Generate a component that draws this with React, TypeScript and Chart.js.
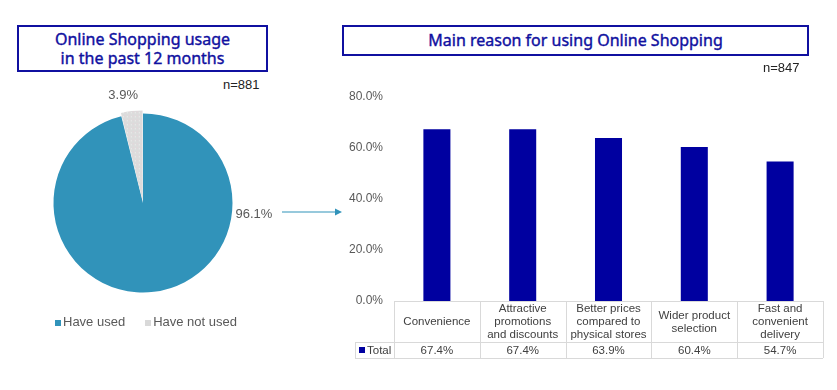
import React, { useEffect, useRef } from "react";
import { Chart, registerables } from "chart.js";

Chart.register(...registerables);

// ---- data ----
const pieLabels = ["Have used", "Have not used"];
const pieValues = [96.1, 3.9];
const pieN = "n=881";
const pieTitle = ["Online Shopping usage", "in the past 12 months"];

const barCategories: string[][] = [
  ["Convenience"],
  ["Attractive", "promotions", "and discounts"],
  ["Better prices", "compared to", "physical stores"],
  ["Wider product", "selection"],
  ["Fast and", "convenient", "delivery"],
];
const barSeriesName = "Total";
const barValues = [67.4, 67.4, 63.9, 60.4, 54.7];
const barTicks = [0, 20, 40, 60, 80];
const barN = "n=847";
const barTitle = "Main reason for using Online Shopping";

const PIE_BLUE = "rgb(49,147,186)";
const BAR_BLUE = "#0000A0";
const TITLE_BLUE = "#1010A0";
const GRAY_TEXT = "#595959";
const FONT = "'Liberation Sans', Arial, sans-serif";

function makeDotPattern(): CanvasPattern | string {
  const c = document.createElement("canvas");
  c.width = 4;
  c.height = 4;
  const g = c.getContext("2d");
  if (!g) return "#DADADA";
  g.fillStyle = "#DCDCDC";
  g.fillRect(0, 0, 4, 4);
  g.fillStyle = "#E9D3DA";
  g.fillRect(1, 1, 1, 1);
  g.fillStyle = "#F0F0F0";
  g.fillRect(3, 2, 1, 1);
  const p = g.createPattern(c, "repeat");
  return p || "#DADADA";
}

function PieChart() {
  const ref = useRef<HTMLCanvasElement>(null);
  useEffect(() => {
    if (!ref.current) return;
    const labelPlugin = {
      id: "pieLabels",
      afterDatasetsDraw(chart: any) {
        const ctx = chart.ctx;
        const meta = chart.getDatasetMeta(0);
        ctx.save();
        ctx.font = `13px ${FONT}`;
        ctx.fillStyle = GRAY_TEXT;
        ctx.textBaseline = "middle";
        const a0: any = meta.data[0];
        ctx.textAlign = "left";
        ctx.fillText(
          pieValues[0].toFixed(1) + "%",
          a0.x + a0.outerRadius + 3,
          a0.y + 11
        );
        const a1: any = meta.data[1];
        const mid = (a1.startAngle + a1.endAngle) / 2 - 0.06;
        const r = a1.outerRadius + 20;
        ctx.textAlign = "center";
        ctx.fillText(
          pieValues[1].toFixed(1) + "%",
          a1.x + Math.cos(mid) * r,
          a1.y + Math.sin(mid) * r
        );
        ctx.restore();
      },
    };
    const chart = new Chart(ref.current, {
      type: "pie",
      data: {
        labels: pieLabels,
        datasets: [
          {
            data: pieValues,
            backgroundColor: [PIE_BLUE, makeDotPattern() as any],
            borderWidth: 0,
            offset: [0, 7],
          },
        ],
      },
      options: {
        animation: false,
        responsive: false,
        radius: 89.5,
        layout: { padding: { left: 0, right: 4, top: 0, bottom: 4 } },
        plugins: {
          legend: { display: false },
          tooltip: { enabled: false },
        },
      } as any,
      plugins: [labelPlugin],
    });
    return () => chart.destroy();
  }, []);
  return (
    <canvas
      ref={ref}
      width={290}
      height={290}
      style={{ position: "absolute", left: 0, top: 60, width: 290, height: 290 }}
    />
  );
}

function BarChart() {
  const ref = useRef<HTMLCanvasElement>(null);
  useEffect(() => {
    if (!ref.current) return;
    const tablePlugin = {
      id: "dataTable",
      afterDraw(chart: any) {
        const ctx = chart.ctx;
        const { left, right, bottom } = chart.chartArea;
        const xs = chart.scales.x;
        const n = barCategories.length;
        const colW = (right - left) / n;
        const headH = 41;
        const rowH = 16;
        const legW = 39;
        ctx.save();
        ctx.strokeStyle = "#D9D9D9";
        ctx.lineWidth = 1;
        const hl = (x1: number, x2: number, y: number) => {
          ctx.beginPath();
          ctx.moveTo(x1, Math.round(y) + 0.5);
          ctx.lineTo(x2, Math.round(y) + 0.5);
          ctx.stroke();
        };
        const vl = (x: number, y1: number, y2: number) => {
          ctx.beginPath();
          ctx.moveTo(Math.round(x) + 0.5, y1);
          ctx.lineTo(Math.round(x) + 0.5, y2);
          ctx.stroke();
        };
        hl(left, right, bottom);
        hl(left - legW, right, bottom + headH);
        hl(left - legW, right, bottom + headH + rowH);
        for (let i = 0; i <= n; i++) {
          vl(left + i * colW, bottom, bottom + headH + rowH);
        }
        vl(left - legW, bottom + headH, bottom + headH + rowH);

        ctx.font = `11.5px ${FONT}`;
        ctx.fillStyle = "#404040";
        ctx.textAlign = "center";
        ctx.textBaseline = "middle";
        const lh = 12.8;
        barCategories.forEach((lines, i) => {
          const cx = xs.getPixelForValue(i);
          const cy = bottom + headH / 2 + 0.5;
          const y0 = cy - ((lines.length - 1) * lh) / 2;
          lines.forEach((ln, j) => ctx.fillText(ln, cx, y0 + j * lh));
          ctx.fillText(
            barValues[i].toFixed(1) + "%",
            cx,
            bottom + headH + rowH / 2 + 0.5
          );
        });
        const ry = bottom + headH + rowH / 2;
        ctx.fillStyle = BAR_BLUE;
        ctx.fillRect(left - legW + 4, ry - 3, 6, 6);
        ctx.fillStyle = "#404040";
        ctx.textAlign = "left";
        ctx.fillText(barSeriesName, left - legW + 12, ry + 0.5);
        ctx.restore();
      },
    };
    const chart = new Chart(ref.current, {
      type: "bar",
      data: {
        labels: barCategories.map((l) => l.join(" ")),
        datasets: [
          {
            label: barSeriesName,
            data: barValues,
            backgroundColor: BAR_BLUE,
            borderWidth: 0,
            categoryPercentage: 1,
            barPercentage: 0.315,
          },
        ],
      },
      options: {
        animation: false,
        responsive: false,
        layout: { padding: { left: 0, right: 14, top: 37, bottom: 89 } },
        plugins: {
          legend: { display: false },
          tooltip: { enabled: false },
        },
        scales: {
          x: {
            display: false,
          },
          y: {
            min: 0,
            max: 80,
            afterBuildTicks: (axis: any) => {
              axis.ticks = barTicks.map((v) => ({ value: v }));
            },
            afterFit: (axis: any) => {
              axis.width = 64;
            },
            grid: { display: false, drawTicks: false },
            border: { display: false },
            ticks: {
              padding: 11,
              color: GRAY_TEXT,
              font: { family: FONT, size: 12 },
              callback: (v: any) => Number(v).toFixed(1) + "%",
            },
          },
        },
      } as any,
      plugins: [tablePlugin],
    });
    return () => chart.destroy();
  }, []);
  return (
    <canvas
      ref={ref}
      width={507}
      height={330}
      style={{ position: "absolute", left: 330, top: 60, width: 507, height: 330 }}
    />
  );
}

export default function App() {
  const titleFont = "'Noto Sans', 'Open Sans', sans-serif";
  const titleStroke: any = { WebkitTextStroke: `0.4px ${TITLE_BLUE}` };
  return (
    <div
      style={{
        position: "absolute",
        left: 0,
        top: 0,
        width: 837,
        height: 390,
        background: "#fff",
        overflow: "hidden",
        fontFamily: FONT,
      }}
    >
      <div
        style={{
          position: "absolute",
          left: 17,
          top: 25,
          width: 251,
          height: 47,
          boxSizing: "border-box",
          border: `2px solid ${TITLE_BLUE}`,
          color: TITLE_BLUE,
          fontFamily: titleFont,
          fontSize: 16,
          lineHeight: "19px",
          textAlign: "center",
          paddingTop: 3,
          ...titleStroke,
        }}
      >
        {pieTitle[0]}
        <br />
        {pieTitle[1]}
      </div>
      <div
        style={{
          position: "absolute",
          left: 223,
          top: 77,
          fontSize: 13,
          lineHeight: "16px",
          color: "#222",
        }}
      >
        {pieN}
      </div>
      <PieChart />
      <div
        style={{
          position: "absolute",
          left: 55,
          top: 314,
          fontSize: 13,
          lineHeight: "16px",
          color: GRAY_TEXT,
          whiteSpace: "nowrap",
        }}
      >
        <span
          style={{
            display: "inline-block",
            width: 6,
            height: 6,
            background: PIE_BLUE,
            marginRight: 2,
            verticalAlign: "middle",
          }}
        />
        {pieLabels[0]}
        <span
          style={{
            display: "inline-block",
            width: 6,
            height: 6,
            background: "#D9D9D9",
            marginLeft: 20,
            marginRight: 2,
            verticalAlign: "middle",
          }}
        />
        {pieLabels[1]}
      </div>
      <svg
        style={{ position: "absolute", left: 278, top: 205 }}
        width={70}
        height={14}
      >
        <line x1={4} y1={7} x2={60} y2={7} stroke={PIE_BLUE} strokeWidth={1.2} />
        <polygon points="64,7 57,3.5 57,10.5" fill={PIE_BLUE} />
      </svg>
      <div
        style={{
          position: "absolute",
          left: 342,
          top: 25,
          width: 467,
          height: 31,
          boxSizing: "border-box",
          border: `2px solid ${TITLE_BLUE}`,
          color: TITLE_BLUE,
          fontFamily: titleFont,
          fontSize: 16,
          lineHeight: "27px",
          textAlign: "center",
          ...titleStroke,
        }}
      >
        {barTitle}
      </div>
      <div
        style={{
          position: "absolute",
          left: 763,
          top: 60,
          fontSize: 13,
          lineHeight: "16px",
          color: "#222",
        }}
      >
        {barN}
      </div>
      <BarChart />
    </div>
  );
}
